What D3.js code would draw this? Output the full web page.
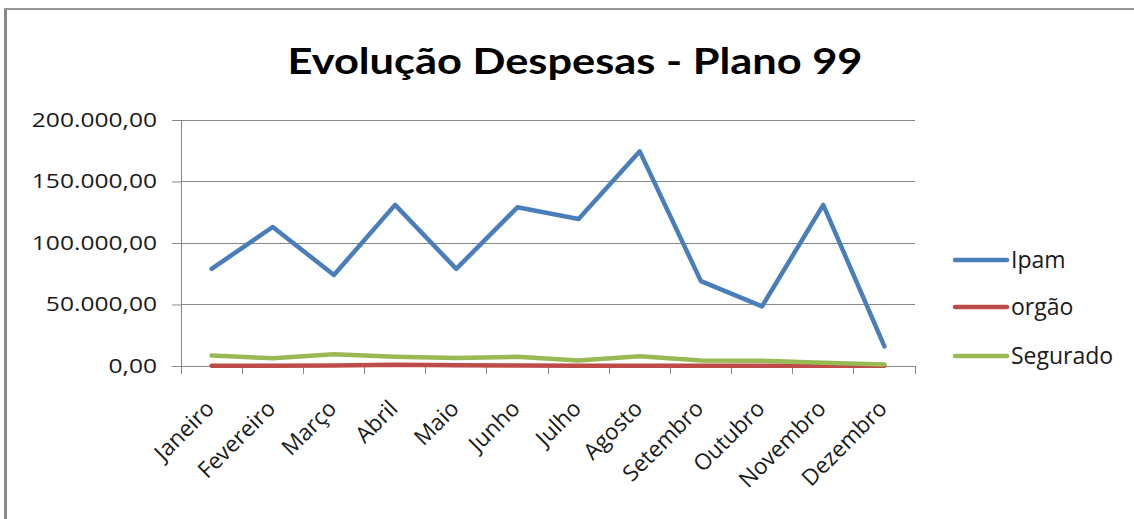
<!DOCTYPE html>
<html><head><meta charset="utf-8">
<script src="https://cdn.jsdelivr.net/npm/d3@7"></script>
<style>html,body{margin:0;padding:0;background:#fff;}svg{display:block;}</style>
</head><body>
<svg id="c" width="1134" height="519"></svg>
<script>
const months = ["Janeiro","Fevereiro","Março","Abril","Maio","Junho","Julho","Agosto","Setembro","Outubro","Novembro","Dezembro"];
const ipam = [79000,113000,74000,131000,79000,129000,119500,174500,69000,48500,131000,16000];
const orgao = [300,300,500,1100,600,400,300,300,300,300,300,200];
const segurado = [8500,6300,9500,7600,6600,7500,4400,8000,4400,4300,2700,1300];
const yTicks = [0,50000,100000,150000,200000];
const seriesNames = ["Ipam","orgão","Segurado"];
const colors = ["#4A7EBB","#BE4B48","#98B954"];

const svg = d3.select("#c");
const font = "'Open Sans', 'DejaVu Sans', sans-serif";
// outer frame (left and top edges visible)
svg.append("line").attr("x1",5.5).attr("x2",5.5).attr("y1",8).attr("y2",519)
  .attr("stroke","#8a8a8a").attr("stroke-width",3);
svg.append("line").attr("x1",4).attr("x2",1134).attr("y1",9).attr("y2",9)
  .attr("stroke","#959595").attr("stroke-width",2);

const L=181, R=915, T=120, B=366;
const x = d3.scaleBand().domain(months).range([L,R]);
const y = d3.scaleLinear().domain([0,200000]).range([B,T]);
const fmt = v => d3.format(",.2f")(v).replace(/,/g,"#").replace(".",",").replace(/#/g,".");

// title
svg.append("text").attr("x",575).attr("y",73.5).attr("text-anchor","middle")
  .attr("font-family","Lato, 'Open Sans', sans-serif").attr("font-weight","bold").attr("font-size",36)
  .attr("textLength",575).attr("lengthAdjust","spacingAndGlyphs")
  .attr("fill","#000").text("Evolução Despesas - Plano 99");

// gridlines
svg.append("g").selectAll("line").data(yTicks.filter(d=>d>0)).join("line")
  .attr("x1",L).attr("x2",R).attr("y1",d=>y(d)).attr("y2",d=>y(d))
  .attr("stroke","#878787").attr("stroke-width",1).attr("shape-rendering","crispEdges");

// y axis
const ya = svg.append("g").attr("transform",`translate(${L},0)`)
  .call(d3.axisLeft(y).tickValues(yTicks).tickFormat(fmt).tickSize(9).tickPadding(15));
ya.select(".domain").attr("stroke","#878787");
ya.selectAll(".tick line").attr("stroke","#878787");
ya.selectAll("text").attr("font-family",font).attr("font-size",19.5).attr("fill","#1a1a1a")
  .each(function(){
    const w = this.getComputedTextLength();
    d3.select(this).attr("textLength", w*1.26).attr("lengthAdjust","spacingAndGlyphs");
  });

// x axis
const xa = svg.append("g").attr("transform",`translate(0,${B})`)
  .call(d3.axisBottom(x).tickSize(0).tickPadding(0));
xa.select(".domain").attr("stroke","#878787");
xa.selectAll(".tick text").remove();
// tick marks at band boundaries
const bounds = months.map(m=>x(m)).concat([R]);
svg.append("g").selectAll("line").data(bounds).join("line")
  .attr("x1",d=>d).attr("x2",d=>d).attr("y1",B).attr("y2",B+8)
  .attr("stroke","#878787").attr("shape-rendering","crispEdges");
// month labels
svg.append("g").selectAll("text").data(months).join("text")
  .attr("transform",d=>`translate(${x(d)+x.bandwidth()/2+4},${B+44}) rotate(-45)`)
  .attr("text-anchor","end").attr("font-family",font).attr("font-size",22.5)
  .attr("fill","#1a1a1a").text(d=>d);

// lines
const line = d3.line().x((d,i)=>x(months[i])+x.bandwidth()/2).y(d=>y(d));
const allSeries = [ipam, orgao, segurado];
[1,2,0].forEach(k=>{
  svg.append("path").datum(allSeries[k]).attr("d",line).attr("fill","none")
    .attr("stroke",colors[k]).attr("stroke-width",4.5)
    .attr("stroke-linejoin","round").attr("stroke-linecap","round");
});

// legend
const lg = svg.append("g");
const ly = [260,307,356];
seriesNames.forEach((n,i)=>{
  lg.append("line").attr("x1",955).attr("x2",1007).attr("y1",ly[i]).attr("y2",ly[i])
    .attr("stroke",colors[i]).attr("stroke-width",4.5).attr("stroke-linecap","round");
  lg.append("text").attr("x",1011).attr("y",ly[i]+7.5).attr("font-family",font)
    .attr("font-size",23).attr("fill","#1a1a1a").text(n);
});
</script>
</body></html>
